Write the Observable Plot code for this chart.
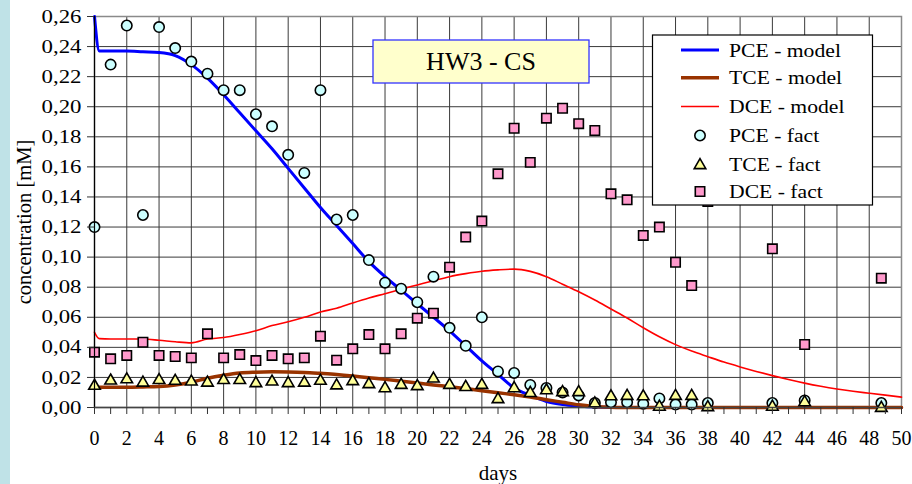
<!DOCTYPE html>
<html>
<head>
<meta charset="utf-8">
<script src="https://cdn.jsdelivr.net/npm/d3@7"></script>
<script src="https://cdn.jsdelivr.net/npm/@observablehq/plot@0.6"></script>
<style>
  html, body { margin: 0; padding: 0; background: #ffffff; }
  #wrap { position: relative; width: 912px; height: 484px; overflow: hidden; }
  #strip { position: absolute; left: 0; top: 0; width: 10px; height: 484px; background: #bfe2e7; }
  #chart { position: absolute; left: 0; top: 0; }
</style>
</head>
<body>
<div id="wrap"><div id="strip"></div><div id="chart"></div></div>
<script>
// ---------- data ----------
const titleText = "HW3 - CS";
const xTitle = "days";
const yTitle = "concentration [mM]";
const seriesNames = ["PCE - model", "TCE - model", "DCE - model", "PCE - fact", "TCE - fact", "DCE - fact"];

const modelDays = [0, 0.3, 1, 2, 3, 4, 5, 6, 7, 8, 9, 10, 11, 12, 13, 14, 15, 16, 17, 18, 19, 20,
  21, 22, 23, 24, 25, 26, 27, 28, 29, 30, 31, 32, 33, 34, 35, 36, 37, 38, 39, 40,
  41, 42, 43, 44, 45, 46, 47, 48, 49, 50];
const pceModel = [0.26, 0.237, 0.237, 0.237, 0.2365, 0.236, 0.234, 0.228, 0.219, 0.208, 0.196, 0.184,
  0.172, 0.159, 0.146, 0.133, 0.121, 0.109, 0.097, 0.087, 0.078, 0.069,
  0.060, 0.051, 0.041, 0.031, 0.022, 0.013, 0.008, 0.004, 0.002, 0.001, 0.0003, 0, 0, 0, 0, 0, 0, 0, 0, 0,
  0, 0, 0, 0, 0, 0, 0, 0, 0, 0];
const tceModel = [0.0135, 0.0135, 0.0135, 0.0135, 0.0137, 0.014, 0.015, 0.0168, 0.0195, 0.0215, 0.023, 0.0235,
  0.0237, 0.0236, 0.0233, 0.0227, 0.022, 0.021, 0.0198, 0.0187, 0.0175, 0.0163,
  0.015, 0.0138, 0.0125, 0.0112, 0.0098, 0.0085, 0.007, 0.0052, 0.0035, 0.0018, 0.0006, 0.0002, 0, 0, 0, 0, 0, 0, 0, 0,
  0, 0, 0, 0, 0, 0, 0, 0, 0, 0];
const dceModel = [0.050, 0.0458, 0.0456, 0.0456, 0.0455, 0.0447, 0.0437, 0.043, 0.0455, 0.0465, 0.0485, 0.051,
  0.0545, 0.057, 0.060, 0.0635, 0.066, 0.0695, 0.0728, 0.0757, 0.0787, 0.0815,
  0.0843, 0.087, 0.089, 0.0906, 0.0915, 0.092, 0.0905, 0.087, 0.082, 0.077, 0.0715, 0.0655, 0.0595, 0.053, 0.047, 0.0418, 0.0375, 0.0338, 0.0302, 0.027,
  0.024, 0.0212, 0.0186, 0.0162, 0.0141, 0.0123, 0.0108, 0.0095, 0.0082, 0.0069];

const factDays = [0, 1, 2, 3, 4, 5, 6, 7, 8, 9, 10, 11, 12, 13, 14, 15, 16, 17, 18, 19, 20,
  21, 22, 23, 24, 25, 26, 27, 28, 29, 30, 31, 32, 33, 34, 35, 36, 37, 38, 42, 44, 48.75];
const pceFact = [0.120, 0.228, 0.254, 0.128, 0.253, 0.239, 0.230, 0.222, 0.211, 0.211, 0.195,
  0.187, 0.168, 0.156, 0.211, 0.125, 0.128, 0.098, 0.083, 0.079, 0.070,
  0.087, 0.053, 0.041, 0.060, 0.024, 0.023, 0.015, 0.013, 0.010, 0.008,
  0.003, 0.0035, 0.0035, 0.0025, 0.006, 0.002, 0.002, 0.003, 0.003, 0.0047, 0.003];
const tceFact = [0.0152, 0.0187, 0.0195, 0.0173, 0.019, 0.0185, 0.018, 0.0173, 0.019, 0.019, 0.017,
  0.018, 0.017, 0.0173, 0.0185, 0.0155, 0.0183, 0.0163, 0.0136, 0.0158, 0.015,
  0.020, 0.0158, 0.0144, 0.0158, 0.0063, 0.0136, 0.0104, 0.0122, 0.011, 0.011,
  0.0035, 0.0082, 0.0085, 0.0082, 0.0013, 0.0085, 0.0085, 0.001, 0.0013, 0.0043, 0.0005];
const dceFact = [0.0368, 0.0324, 0.0346, 0.0434, 0.0346, 0.0339, 0.033, 0.049, 0.033, 0.0352, 0.0312,
  0.0346, 0.0324, 0.033, 0.0474, 0.0315, 0.039, 0.0485, 0.039, 0.049, 0.0594,
  0.0627, 0.0933, 0.1133, 0.124, 0.1554, 0.1857, 0.163, 0.1924, 0.199, 0.1887,
  0.1842, 0.1421, 0.1381, 0.1144, 0.12, 0.0966, 0.0811, 0.137, 0.1055, 0.0419, 0.086];

const yTicks = [0, 0.02, 0.04, 0.06, 0.08, 0.10, 0.12, 0.14, 0.16, 0.18, 0.20, 0.22, 0.24, 0.26];
const xTicks = Array.from({length: 51}, (_, i) => i);
const xGrid = Array.from({length: 26}, (_, i) => i * 2);

// ---------- tables ----------
const model = modelDays.map((d, i) => ({d, pce: pceModel[i], tce: tceModel[i], dce: dceModel[i]}));
const fact = factDays.map((d, i) => ({d, pce: pceFact[i], tce: tceFact[i], dce: dceFact[i]}));

const colors = {pceLine: "#0000ff", tceLine: "#993300", dceLine: "#ff0000",
  pceFill: "#ccffff", tceFill: "#ffff99", dceFill: "#ff99cc"};
const fmt = v => d3.format(".2f")(v).replace(".", ",");
const FONT = "'Liberation Serif', 'Times New Roman', serif";

const W = 912, H = 484;
const mL = 94, mR = 11, mT = 16, mB = 77;
const rCircle = 5.2, rTri = 4.3, rSq = 5.3;

const chart = Plot.plot({
  width: W, height: H,
  marginLeft: mL, marginRight: mR, marginTop: mT, marginBottom: mB,
  style: {fontFamily: FONT, background: "transparent", color: "#000", overflow: "visible"},
  x: {domain: [0, 50]},
  y: {domain: [0, 0.26]},
  marks: [
    Plot.gridY(yTicks, {stroke: "#3a3a3a", strokeOpacity: 1, strokeWidth: 1}),
    Plot.gridX(xGrid, {stroke: "#3a3a3a", strokeOpacity: 1, strokeWidth: 1}),
    Plot.frame({stroke: "#8a8a8a", strokeWidth: 1.5}),
    Plot.line(model, {x: "d", y: "pce", stroke: colors.pceLine, strokeWidth: 3, curve: "monotone-x"}),
    Plot.line(model, {x: "d", y: "tce", stroke: colors.tceLine, strokeWidth: 3.5, curve: "monotone-x"}),
    Plot.line(model, {x: "d", y: "dce", stroke: colors.dceLine, strokeWidth: 1.6, curve: "monotone-x"}),
    Plot.dot(fact, {x: "d", y: "pce", symbol: "circle", r: rCircle, fill: colors.pceFill, stroke: "#000", strokeWidth: 1.6}),
    Plot.dot(fact, {x: "d", y: "tce", symbol: "triangle", r: rTri, dy: 1.3, fill: colors.tceFill, stroke: "#000", strokeWidth: 1.6}),
    Plot.dot(fact, {x: "d", y: "dce", symbol: "square", r: rSq, fill: colors.dceFill, stroke: "#000", strokeWidth: 1.6}),
    Plot.ruleX([0], {stroke: "#000", strokeWidth: 1.2}),
    Plot.ruleY([0], {stroke: "#444", strokeWidth: 1.5}),
    Plot.axisY(yTicks, {tickSize: 7, tickPadding: 6, tickFormat: fmt, fontSize: 19, label: null, stroke: "#333"}),
    Plot.axisX(xTicks, {tickSize: 7, tickPadding: 16, tickFormat: d => (d % 2 ? "" : String(d)), fontSize: 20, label: null, stroke: "#333"}),
    Plot.text([yTitle], {frameAnchor: "left", dx: -70, dy: 10, rotate: -90, textAnchor: "middle", lineAnchor: "middle", fontSize: 20.5, fill: "#000", text: d => d}),
    Plot.text([xTitle], {frameAnchor: "bottom", dy: 66, textAnchor: "middle", lineAnchor: "middle", fontSize: 21, fill: "#000", text: d => d})
  ]
});
document.getElementById("chart").appendChild(chart);

const svg = d3.select(chart);

// widen texts horizontally (the reference glyphs are stretched), keeping their anchor
function widen(node, s) {
  const L = node.getComputedTextLength();
  if (L > 0) {
    node.setAttribute("textLength", (L * s).toFixed(2));
    node.setAttribute("lengthAdjust", "spacingAndGlyphs");
  }
}
svg.selectAll("g[aria-label='y-axis tick label'] text").each(function () { widen(this, 1.2); });

// ---------- overlay boxes (title, legend) ----------
const g = svg.append("g").attr("font-family", FONT).attr("text-anchor", "start");

// title box
g.append("rect").attr("x", 373).attr("y", 40).attr("width", 216).attr("height", 43)
  .attr("fill", "#ffffcc").attr("stroke", "#3333ff").attr("stroke-width", 1.3);
g.append("text").attr("x", 481).attr("y", 61.5).attr("text-anchor", "middle")
  .attr("dominant-baseline", "central").attr("font-size", 26).attr("fill", "#000").text(titleText);

// legend
const lg = g.append("g");
lg.append("rect").attr("x", 652.5).attr("y", 35).attr("width", 220).attr("height", 170)
  .attr("fill", "#ffffff").attr("stroke", "#000").attr("stroke-width", 1.2);
const rowsY = [50, 77.7, 106.5, 135.5, 164, 191.5];
const items = [
  {type: "line", stroke: colors.pceLine, w: 3},
  {type: "line", stroke: colors.tceLine, w: 3.5},
  {type: "line", stroke: colors.dceLine, w: 1.6},
  {type: "dot", sym: d3.symbolCircle, r: rCircle, fill: colors.pceFill},
  {type: "dot", sym: d3.symbolTriangle, r: rTri, fill: colors.tceFill, dy: 1.3},
  {type: "dot", sym: d3.symbolSquare, r: rSq, fill: colors.dceFill}
];
items.forEach((it, i) => {
  const y = rowsY[i];
  if (it.type === "line") {
    lg.append("line").attr("x1", 681).attr("x2", 719).attr("y1", y).attr("y2", y)
      .attr("stroke", it.stroke).attr("stroke-width", it.w);
  } else {
    lg.append("path").attr("d", d3.symbol(it.sym, Math.PI * it.r * it.r)())
      .attr("transform", `translate(700,${y + (it.dy || 0)})`)
      .attr("fill", it.fill).attr("stroke", "#000").attr("stroke-width", 1.6);
  }
  const t = lg.append("text").attr("x", 729).attr("y", y)
    .attr("text-anchor", "start").attr("dominant-baseline", "central")
    .attr("font-size", 19).attr("fill", "#000").text(seriesNames[i]);
  widen(t.node(), 1.14);
});
</script>
</body>
</html>
